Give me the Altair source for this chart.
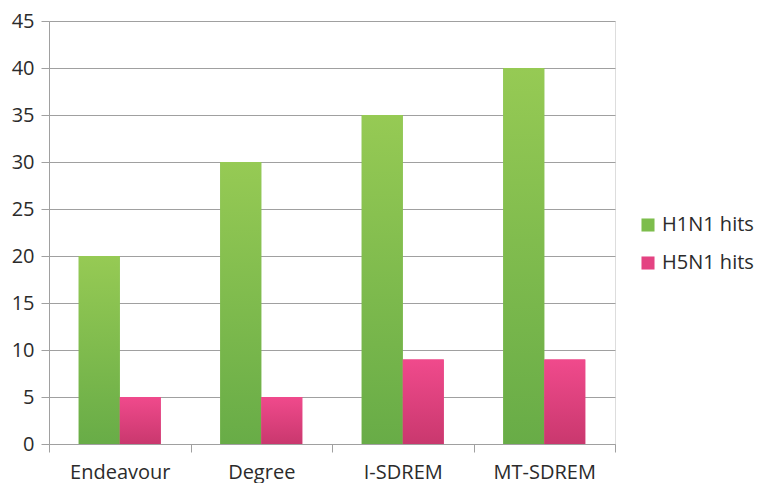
import altair as alt
import pandas as pd

categories = ["Endeavour", "Degree", "I-SDREM", "MT-SDREM"]
series = ["H1N1 hits", "H5N1 hits"]
h1n1 = [20, 30, 35, 40]
h5n1 = [5, 5, 9, 9]
y_ticks = [0, 5, 10, 15, 20, 25, 30, 35, 40, 45]

rows = []
for c, a, b in zip(categories, h1n1, h5n1):
    rows.append({"category": c, "series": series[0], "value": a})
    rows.append({"category": c, "series": series[1], "value": b})
df = pd.DataFrame(rows)

FONT = "Open Sans"
GRAY = "#a0a0a0"
TXT = "#2b2b2b"

green_grad = alt.LinearGradient(
    gradient="linear",
    stops=[alt.GradientStop(color="#96ca54", offset=0),
           alt.GradientStop(color="#68ac47", offset=1)],
    x1=0, x2=0, y1=0, y2=1)
pink_grad = alt.LinearGradient(
    gradient="linear",
    stops=[alt.GradientStop(color="#f04a8c", offset=0),
           alt.GradientStop(color="#c9386e", offset=1)],
    x1=0, x2=0, y1=0, y2=1)

x_enc = alt.X("category:N", sort=categories,
              scale=alt.Scale(paddingInner=0, paddingOuter=0),
              axis=alt.Axis(title=None, tickBand="extent", labelAngle=0,
                            labelFont=FONT, labelFontSize=20, labelColor=TXT,
                            labelPadding=10, tickSize=8, tickColor=GRAY,
                            domainColor=GRAY, grid=False))
xo_enc = alt.XOffset("series:N", sort=series,
                     scale=alt.Scale(domain=series, paddingOuter=0.725, paddingInner=0))
y_enc = alt.Y("value:Q",
              scale=alt.Scale(domain=[0, 45], nice=False),
              axis=alt.Axis(title=None, values=y_ticks, labelFont=FONT,
                            labelFontSize=20, labelColor=TXT, labelPadding=7,
                            tickSize=8, tickColor=GRAY, domainColor=GRAY,
                            gridColor=GRAY, grid=True))

base = alt.Chart(df)

legend_layer = base.mark_bar().encode(
    x=x_enc, xOffset=xo_enc, y=y_enc,
    color=alt.Color("series:N", sort=series,
                    scale=alt.Scale(domain=series, range=["#7dbd4c", "#e44382"]),
                    legend=alt.Legend(title=None, orient="none", legendX=589,
                                      legendY=194, labelFont=FONT,
                                      labelFontSize=20, labelColor=TXT,
                                      symbolType="square", symbolSize=170,
                                      symbolStrokeWidth=0, rowPadding=18,
                                      labelOffset=4, padding=0)),
)

green_layer = base.mark_bar(fill=green_grad).encode(
    x=x_enc, xOffset=xo_enc, y=y_enc
).transform_filter(alt.datum.series == series[0])

pink_layer = base.mark_bar(fill=pink_grad).encode(
    x=x_enc, xOffset=xo_enc, y=y_enc
).transform_filter(alt.datum.series == series[1])

chart = alt.layer(legend_layer, green_layer, pink_layer).properties(
    width=566, height=423,
    autosize=alt.AutoSizeParams(type="none"),
    padding={"left": 41, "top": 13, "right": 139, "bottom": 39},
).configure_view(stroke=None).configure(background="white")

chart.save("out.html", embed_options={"renderer": "svg", "actions": False})
